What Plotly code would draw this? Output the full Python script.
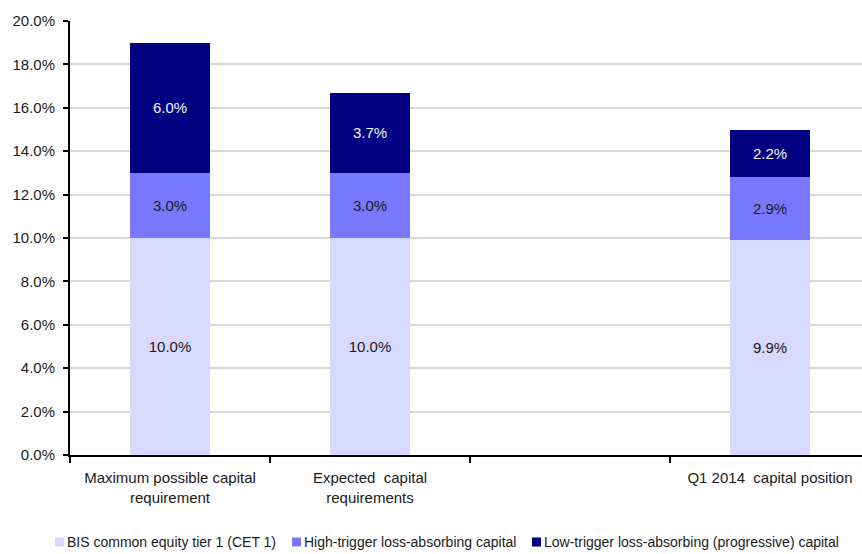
import plotly.graph_objects as go

# Capital requirement scenarios (blank slot keeps the gap before the last bar)
categories = [
    "Maximum possible capital<br>requirement",
    "Expected  capital<br>requirements",
    " ",
    "Q1 2014  capital position",
]
cet1 = [10.0, 10.0, None, 9.9]
high_trigger = [3.0, 3.0, None, 2.9]
low_trigger = [6.0, 3.7, None, 2.2]

series_names = [
    "BIS common equity tier 1 (CET 1)",
    "High-trigger loss-absorbing capital",
    "Low-trigger loss-absorbing (progressive) capital",
]
series_values = [cet1, high_trigger, low_trigger]
series_colors = ["#D9D9FF", "#7878FF", "#000080"]
label_colors = ["#1a1a1a", "#1a1a1a", "#f4f4f4"]

FONT = "Liberation Sans, Arial, sans-serif"

W, H = 862, 554
M_L, M_R, M_T, M_B = 70, 0, 21, 99
PLOT_W = W - M_L - M_R
PLOT_H = H - M_T - M_B


def px_to_paper_x(px):
    return (px - M_L) / PLOT_W


def px_to_paper_y(py):
    return (H - M_B - py) / PLOT_H


fig = go.Figure()
for name, vals, color, txtcolor in zip(series_names, series_values, series_colors, label_colors):
    fig.add_trace(go.Bar(
        x=categories,
        y=vals,
        name=name,
        marker=dict(color=color, line=dict(width=0)),
        width=0.4,
        text=[f"{v:.1f}%" if v is not None else "" for v in vals],
        textposition="inside",
        insidetextanchor="middle",
        textangle=0,
        textfont=dict(color=txtcolor, size=15, family=FONT),
        hoverinfo="skip",
        showlegend=False,
    ))

# Compact single-row key below the axis: small colour square followed by its label
key_square_left = [55, 292, 532]
key_y = 542
sq = 9
for name, color, left in zip(series_names, series_colors, key_square_left):
    fig.add_shape(
        type="rect", xref="paper", yref="paper",
        x0=px_to_paper_x(left), x1=px_to_paper_x(left + sq),
        y0=px_to_paper_y(key_y + sq / 2), y1=px_to_paper_y(key_y - sq / 2),
        fillcolor=color, line=dict(width=0),
    )
    fig.add_annotation(
        x=px_to_paper_x(left + sq + 2), y=px_to_paper_y(key_y),
        xref="paper", yref="paper",
        xanchor="left", yanchor="middle",
        text=name, showarrow=False,
        font=dict(size=14, family=FONT, color="#1a1a1a"),
        borderpad=0,
    )

fig.update_layout(
    barmode="stack",
    width=W,
    height=H,
    margin=dict(l=M_L, r=M_R, t=M_T, b=M_B, autoexpand=False),
    paper_bgcolor="white",
    plot_bgcolor="white",
    font=dict(family=FONT, size=15, color="#1a1a1a"),
    showlegend=False,
)

fig.update_xaxes(
    type="category",
    categoryorder="array",
    categoryarray=categories,
    range=[-0.5, 3.46],
    tickson="boundaries",
    ticks="outside",
    ticklen=6,
    tickwidth=2,
    tickcolor="black",
    ticklabelstandoff=8,
    showline=True,
    linecolor="black",
    linewidth=2,
    showgrid=False,
    tickfont=dict(size=15, family=FONT),
    fixedrange=True,
)

fig.update_yaxes(
    range=[0, 20],
    dtick=2,
    tick0=0,
    tickformat=".1f",
    ticksuffix="%",
    ticks="outside",
    ticklen=5,
    tickwidth=2,
    tickcolor="black",
    ticklabelstandoff=5,
    showline=True,
    linecolor="black",
    linewidth=2,
    showgrid=True,
    gridcolor="#d9d9d9",
    gridwidth=2,
    zeroline=False,
    tickfont=dict(size=15, family=FONT),
    fixedrange=True,
)

fig.write_html("out.html")
